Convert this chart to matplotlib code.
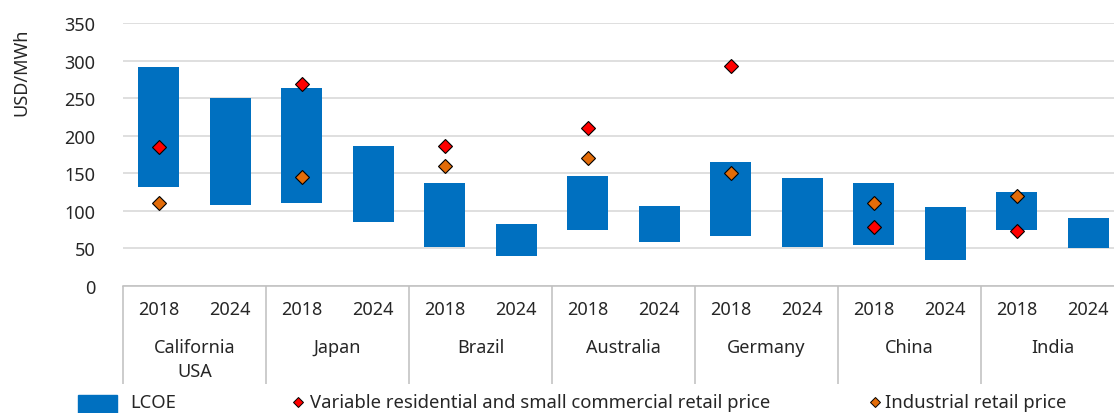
import numpy as np
import matplotlib.pyplot as plt
from matplotlib.lines import Line2D
from matplotlib.patches import Rectangle

plt.rcParams['font.family'] = ['Noto Sans', 'DejaVu Sans']

countries = ["California\nUSA", "Japan", "Brazil", "Australia", "Germany", "China", "India"]
years = ["2018", "2024"]

# LCOE range per bar (order: country, 2018 then 2024)
lcoe_low = [132, 108, 111, 85, 52, 40, 75, 58, 66, 52, 54, 35, 74, 51]
lcoe_high = [292, 251, 264, 186, 137, 83, 147, 106, 165, 144, 137, 105, 125, 90]

# retail prices, only for the 2018 bars
resid_price = [185, 269, 187, 211, 293, 79, 73]
indust_price = [110, 145, 160, 170, 150, 110, 120]

blue = "#0070C0"
red = "#FF0000"
orange = "#E36C09"
grid_c = "#D9D9D9"
axis_c = "#BFBFBF"

fig = plt.figure(figsize=(11.14, 4.14), dpi=100)
W, H = 1114, 414
ax = fig.add_axes([123 / W, 1 - 287 / H, (1124 - 123) / W, (287 - 24.3) / H])

x = np.arange(len(lcoe_low))
ax.bar(x, np.array(lcoe_high) - np.array(lcoe_low), bottom=lcoe_low,
       width=0.57, color=blue, zorder=2)

x18 = x[::2]
ax.plot(x18, resid_price, linestyle="none", marker="D", ms=7.6,
        mfc=red, mec="black", mew=0.8, zorder=3)
ax.plot(x18, indust_price, linestyle="none", marker="D", ms=7.6,
        mfc=orange, mec="black", mew=0.8, zorder=3)

ax.set_ylim(0, 350)
ax.set_xlim(-0.5, len(x) - 0.5)
ax.set_yticks(np.arange(0, 351, 50))
ax.yaxis.grid(True, color=grid_c, linewidth=1.2, zorder=0)
ax.set_axisbelow(True)
for s in ["left", "right", "top"]:
    ax.spines[s].set_visible(False)
ax.spines["bottom"].set_color(axis_c)
ax.spines["bottom"].set_linewidth(1.1)
ax.tick_params(axis="y", length=0, labelsize=13, colors="#262626", pad=20)

# group separators drawn as long x ticks
bounds = np.arange(-0.5, len(x), 2)
ax.set_xticks(bounds)
ax.set_xticklabels([])
ax.tick_params(axis="x", length=70.6, width=1.1, color=axis_c)

axh = 287 - 24.3
for i, xi in enumerate(x):
    ax.text(xi, -23 / axh, years[i % 2], transform=ax.get_xaxis_transform(),
            ha="center", va="center", fontsize=13, color="#262626")
for j, c in enumerate(countries):
    ax.text(2 * j + 0.5, -52 / axh, c, transform=ax.get_xaxis_transform(),
            ha="center", va="top", fontsize=13, color="#262626", linespacing=1.45)

fig.text(21 / W, 1 - 72 / H, "USD/MWh", rotation=90, ha="center", va="center",
         fontsize=13, color="#262626")

# legend
ly = 1 - 403 / H
fig.add_artist(Rectangle((78 / W, 0), 39 / W, 1 - 396 / H, transform=fig.transFigure,
                         color=blue))
fig.text(130 / W, ly, "LCOE", ha="left", va="center", fontsize=13.3, color="#262626")
fig.add_artist(Line2D([298 / W], [ly], transform=fig.transFigure, marker="D", ms=5,
                      mfc=red, mec="black", mew=0.7))
fig.text(310 / W, ly, "Variable residential and small commercial retail price",
         ha="left", va="center", fontsize=13.3, color="#262626")
fig.add_artist(Line2D([875 / W], [ly], transform=fig.transFigure, marker="D", ms=5,
                      mfc=orange, mec="black", mew=0.7))
fig.text(885 / W, ly, "Industrial retail price", ha="left", va="center",
         fontsize=13.3, color="#262626")

fig.savefig("out.png", dpi=100)
